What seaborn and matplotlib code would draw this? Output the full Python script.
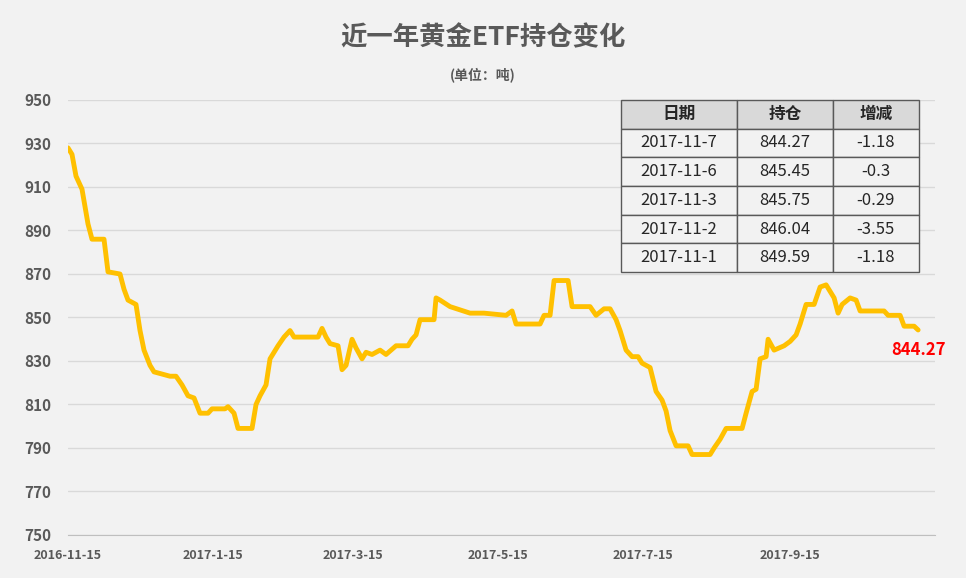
import matplotlib.pyplot as plt
import seaborn as sns
import pandas as pd

sns.set_style("white")
plt.rcParams['font.family'] = ['Noto Sans CJK SC', 'DejaVu Sans']

start = pd.Timestamp('2016-11-15')
# pixel-read positions converted to values
px = [68, 72, 76, 82, 88, 92, 104, 108, 120, 124, 128, 136, 140, 144, 150, 154, 170, 176, 182, 188,
      194, 200, 208, 212, 225, 228, 234, 238, 252, 256, 260, 266, 270, 274, 278, 284, 290, 294, 318, 322,
      326, 330, 338, 342, 346, 352, 356, 362, 366, 372, 380, 386, 396, 408, 412, 416, 420, 434, 436, 440,
      450, 470, 484, 506, 512, 516, 540, 544, 550, 554, 568, 572, 590, 596, 604, 610, 616, 620, 626, 632,
      638, 642, 650, 656, 662, 666, 670, 676, 688, 692, 710, 714, 720, 726, 742, 746, 752, 756, 760, 766,
      768, 774, 784, 790, 796, 800, 806, 814, 820, 826, 834, 838, 842, 850, 856, 860, 884, 888, 900, 904,
      914, 918]
holdings = [928, 925, 915, 909, 893, 886, 886, 871, 870, 863, 858, 856, 844, 835, 828, 825, 823, 823, 819, 814,
            813, 806, 806, 808, 808, 809, 806, 799, 799, 810, 814, 819, 831, 834, 837, 841, 844, 841, 841, 845,
            841, 838, 837, 826, 828, 840, 836, 831, 834, 833, 835, 833, 837, 837, 840, 842, 849, 849, 859, 858,
            855, 852, 852, 851, 853, 847, 847, 851, 851, 867, 867, 855, 855, 851, 854, 854, 849, 844, 835, 832,
            832, 829, 827, 816, 812, 807, 798, 791, 791, 787, 787, 790, 794, 799, 799, 806, 816, 817, 831, 832,
            840, 835, 837, 839, 842, 847, 856, 856, 864, 865, 859, 852, 856, 859, 858, 853, 853, 851, 851, 846,
            846, 844.27]
days = [(p - 68) / 2.375 for p in px]

tick_labels = ['2016-11-15', '2017-1-15', '2017-3-15', '2017-5-15', '2017-7-15', '2017-9-15']
tick_days = [(pd.Timestamp(t) - start).days for t in tick_labels]

table_header = ['日期', '持仓', '增减']
table_rows = [['2017-11-7', '844.27', '-1.18'],
              ['2017-11-6', '845.45', '-0.3'],
              ['2017-11-3', '845.75', '-0.29'],
              ['2017-11-2', '846.04', '-3.55'],
              ['2017-11-1', '849.59', '-1.18']]

df = pd.DataFrame({'day': days, 'holding': holdings})

fig = plt.figure(figsize=(9.66, 5.78), dpi=100, facecolor='#F2F2F2')
ax = fig.add_axes([68/966, 43/578, 867/966, 435/578])
ax.set_facecolor('#F2F2F2')
sns.lineplot(data=df, x='day', y='holding', ax=ax, color='#FFC000', linewidth=3.5)

ax.set_xlim(0, 365)
ax.set_ylim(750, 950)
ax.set_yticks(range(750, 951, 20))
ax.set_xticks(tick_days)
ax.set_xticklabels(tick_labels)
ax.tick_params(axis='both', length=0, labelcolor='#595959')
ax.tick_params(axis='x', pad=10)
ax.tick_params(axis='y', pad=12)
for lab in ax.get_yticklabels():
    lab.set_fontweight('bold'); lab.set_fontsize(11)
for lab in ax.get_xticklabels():
    lab.set_fontweight('bold'); lab.set_fontsize(9)
ax.grid(axis='y', color='#D9D9D9', linewidth=1)
ax.set_axisbelow(True)
for s in ['top', 'right', 'left']:
    ax.spines[s].set_visible(False)
ax.spines['bottom'].set_color('#BFBFBF')
ax.set_xlabel('')
ax.set_ylabel('')

ax.text(days[-1], holdings[-1] - 5, '844.27', color='#FF0000', fontsize=12,
        fontweight='bold', ha='center', va='top')

fig.text(0.5, 1 - 38/578, '近一年黄金ETF持仓变化', ha='center', va='center',
         fontsize=19, fontweight='bold', color='#595959')
fig.text(0.5, 1 - 75/578, '(单位：吨)', ha='center', va='center',
         fontsize=10, fontweight='bold', color='#595959')

tax = fig.add_axes([621/966, 1 - 272/578, 298/966, 172/578])
tbl = tax.table(cellText=table_rows, colLabels=table_header, loc='center',
                cellLoc='center', bbox=[0, 0, 1, 1], colWidths=[0.39, 0.32, 0.29])
tbl.auto_set_font_size(False)
tbl.set_fontsize(12)
for (r, c), cell in tbl.get_celld().items():
    cell.set_edgecolor('#595959')
    cell.set_facecolor('#D9D9D9' if r == 0 else '#F2F2F2')
    if r == 0:
        cell.set_text_props(fontweight='bold')
tax.axis('off')

fig.savefig('out.png', dpi=100, facecolor='#F2F2F2')
